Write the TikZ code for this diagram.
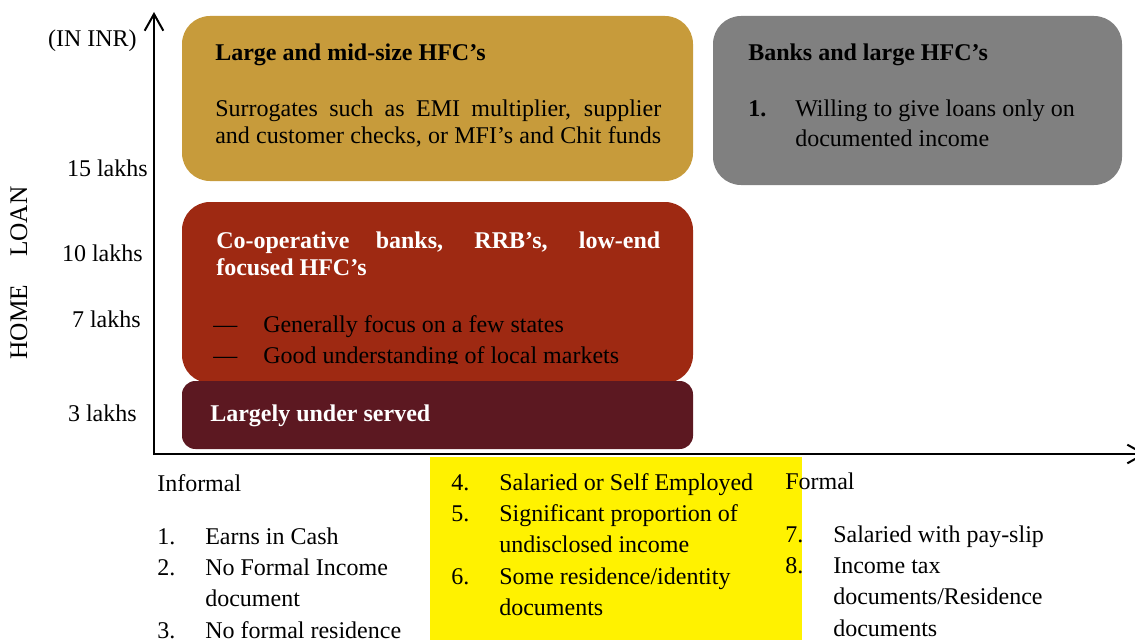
\documentclass[tikz,border=0pt]{standalone}
\usepackage{fontspec}
\setmainfont{Liberation Serif}
\usepackage{tikz}
\usetikzlibrary{arrows.meta}
\definecolor{goldbox}{RGB}{199,155,59}
\definecolor{greybox}{RGB}{128,128,128}
\definecolor{redbox}{RGB}{158,41,18}
\definecolor{maroonbox}{RGB}{92,24,33}

\begin{document}
\begin{tikzpicture}[x=0.75pt,y=-0.75pt,
  txt/.style={inner sep=0pt, anchor=base west, font=\fontsize{18}{23.6}\selectfont},
  ttl/.style={txt, font=\bfseries\fontsize{18}{21}\selectfont},
  axis/.style={line width=1.5pt, -{Straight Barb[length=12.5pt,width=14pt]}}]
\useasboundingbox (0,0) rectangle (1135,642);
% Segment boxes
\fill[goldbox, rounded corners=21pt] (182,16) rectangle (693,181);
\fill[greybox, rounded corners=21pt] (713,16) rectangle (1122,185);
\fill[redbox, rounded corners=21pt] (182,202) rectangle (693,383);
\fill[maroonbox, rounded corners=10pt] (182,381) rectangle (693,449);
\fill[yellow] (430,457) rectangle (802,640);
% Axes
\coordinate (o) at (154,455);
\coordinate (ytop) at (154,12);
\coordinate (xend) at (1146,454);
\draw[axis] (o) -- (ytop);
\draw[axis] (153,454) -- (xend);
% Loan size ticks
\node[txt, anchor=base east] (unit) at (137,47) {(IN INR)};
\foreach \v/\xx/\yy in {15/148/176, 10/143/261, 7/141/327, 3/137/421} {
  \node[txt, anchor=base east] (t\v) at (\xx,\yy) {\v{} lakhs};
}
\node[txt, anchor=base, rotate=90, font=\fontsize{19}{23}\selectfont] (ylab) at (27,273) {HOME\hspace{21pt}LOAN};
% Large and mid-size HFC's
\node[ttl] (goldtitle) at (215,61) {Large and mid-size HFC's};
\node[txt, font=\fontsize{18}{20.5}\selectfont] (goldtext) at (215,116) {\begin{tabular}[t]{@{}l@{}}
  \makebox[334.5pt][s]{Surrogates such as EMI multiplier, supplier}\\
  \makebox[334.5pt][s]{and customer checks, or MFI's and Chit funds}
\end{tabular}};
% Banks and large HFC's
\node[ttl] (greytitle) at (748,61) {Banks and large HFC's};
\node[txt, font=\fontsize{18}{23}\selectfont] (greytext) at (748,116) {\begin{tabular}[t]{@{}p{35.25pt}@{}l@{}}
  \textbf{1.} & Willing to give loans only on\\
  & documented income
\end{tabular}};
% Co-operative banks
\node[ttl, text=white, font=\bfseries\fontsize{18}{20.5}\selectfont] (redtitle) at (216,248) {\begin{tabular}[t]{@{}l@{}}
  \makebox[333pt][s]{Co-operative banks, RRB's, low-end}\\
  focused HFC's
\end{tabular}};
\begin{scope}
  \clip (182,202) rectangle (693,363);
  \node[txt, font=\fontsize{18}{23.7}\selectfont] (redtext) at (213,332) {\begin{tabular}[t]{@{}p{37.5pt}@{}l@{}}
    --- & Generally focus on a few states\\
    --- & Good understanding of local markets
  \end{tabular}};
\end{scope}
% Under served
\node[ttl, text=white] (under) at (210,421) {Largely under served};
% Income profiles
\node[txt] (informal) at (157,491) {Informal};
\node[txt] (inflist) at (157,544) {\begin{tabular}[t]{@{}p{36pt}@{}l@{}}
  1. & Earns in Cash\\
  2. & No Formal Income\\
     & document\\
  3. & No formal residence
\end{tabular}};
\node[txt] (midlist) at (451,490) {\begin{tabular}[t]{@{}p{36pt}@{}l@{}}
  4. & Salaried or Self Employed\\
  5. & Significant proportion of\\
     & undisclosed income\\
  6. & Some residence/identity\\
     & documents
\end{tabular}};
\node[txt] (formal) at (785,489) {Formal};
\node[txt] (forlist) at (785,542) {\begin{tabular}[t]{@{}p{36pt}@{}l@{}}
  7. & Salaried with pay-slip\\
  8. & Income tax\\
     & documents/Residence\\
     & documents
\end{tabular}};
\end{tikzpicture}
\end{document}
